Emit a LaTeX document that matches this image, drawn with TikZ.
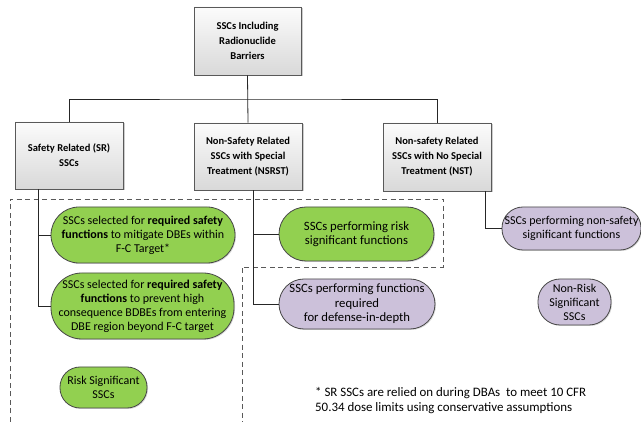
\documentclass[tikz,border=0pt]{standalone}
\usepackage{fontspec}
\setmainfont{Carlito}
\usetikzlibrary{shadows,calc}
\definecolor{boxline}{HTML}{595959}
\definecolor{conn}{HTML}{262626}
\definecolor{grn}{HTML}{92D050}
\definecolor{prp}{HTML}{CCC1DA}
\definecolor{dash}{HTML}{595959}
\tikzset{
  catbox/.style={draw=boxline, line width=0.8pt, top color=white!97!gray, bottom color=gray!30,
     drop shadow={shadow xshift=1.5pt, shadow yshift=-1.5pt, fill=gray!55, opacity=0.7},
     font=\fontsize{10.5}{15}\selectfont\bfseries, align=center, inner sep=2pt},
  pill/.style={draw=conn!85, line width=0.8pt, align=center, inner sep=1pt,
     font=\fontsize{12}{14}\selectfont,
     drop shadow={shadow xshift=1pt, shadow yshift=-1pt, fill=gray!50, opacity=0.6}},
  greenpill/.style={pill, fill=grn},
  purplepill/.style={pill, fill=prp},
  bigtext/.style={font=\fontsize{12.7}{14.5}\selectfont},
  link/.style={draw=conn, line width=0.8pt},
  region/.style={draw=dash, line width=0.8pt, dash pattern=on 5pt off 3.5pt},
}
\begin{document}
\begin{tikzpicture}[x=1pt,y=-1pt]
\useasboundingbox (0,0) rectangle (641,422);
\fill[white] (0,0) rectangle (641,422);
% category boxes
\node[catbox, minimum width=107pt, minimum height=68pt] (top) at (247.5,41) {SSCs Including\\Radionuclide\\Barriers};
\node[catbox, minimum width=108pt, minimum height=67pt] (sr) at (69,155.5) {Safety Related (SR)\\SSCs};
\node[catbox, minimum width=108pt, minimum height=67pt] (nsrst) at (248,156.5) {Non-Safety Related\\SSCs with Special\\Treatment (NSRST)};
\node[catbox, minimum width=108pt, minimum height=68pt] (nst) at (437,157) {Non-safety Related\\SSCs with No Special\\Treatment (NST)};
% dashed regions
\coordinate (r1) at (10,422);
\coordinate (r2) at (10,199);
\coordinate (r3) at (443,199);
\coordinate (r4) at (443,267);
\coordinate (r5) at (242,267);
\coordinate (r6) at (242,422);
\draw[region] (r1) -- (r2) -- (r3) -- (r4) -- (r5) -- (r6);
% pills
\node[greenpill, minimum width=184pt, minimum height=56pt, rounded corners=28pt] (g1) at (143,235)
  {SSCs selected for \textbf{required safety}\\\textbf{functions} to mitigate DBEs within\\F-C Target*};
\node[greenpill, minimum width=183pt, minimum height=66pt, rounded corners=31pt] (g2) at (142.5,306)
  {SSCs selected for \textbf{required safety}\\\textbf{functions} to prevent high\\consequence BDBEs from entering\\DBE region beyond F-C target};
\node[greenpill, minimum width=87pt, minimum height=41pt, rounded corners=20pt] (g3) at (103.5,387.5)
  {Risk Significant\\SSCs};
\node[greenpill, bigtext, minimum width=155pt, minimum height=54pt, rounded corners=27pt] (g4) at (356.5,234)
  {SSCs performing risk\\significant functions};
\node[purplepill, bigtext, minimum width=156pt, minimum height=50pt, rounded corners=25pt] (p1) at (357,304)
  {SSCs performing functions\\required\\for defense-in-depth};
\node[purplepill, minimum width=139pt, minimum height=43pt, rounded corners=21pt] (p2) at (571.5,228.5)
  {SSCs performing non-safety\\significant functions};
\node[purplepill, minimum width=73pt, minimum height=46pt, rounded corners=22pt] (p3) at (574.5,302)
  {Non-Risk\\Significant\\SSCs};
% top connectors
\coordinate (bus) at ($(top.south)!0.5!(nsrst.north)$);
\draw[link] (top.south) -- (nsrst.north);
\draw[link] (sr.north) |- (bus) -| (nst.north);
% SR branch
\coordinate (srj) at ($(sr.south west)+(24,0)$);
\draw[link] (srj) |- (g2.west);
\draw[link] (srj |- g1.west) -- (g1.west);
% NSRST branch
\coordinate (nsj) at ($(nsrst.south west)+(60,0)$);
\draw[link] (nsj) |- (p1.west);
\draw[link] (nsj |- g4.west) -- (g4.west);
% NST branch
\coordinate (ntj) at ($(nst.south west)+(103,0)$);
\draw[link] (ntj) |- (p2.west);
% footnote
\node[anchor=north west, align=left, inner sep=0pt, font=\fontsize{12.9}{15}\selectfont] (fn) at (315,387)
  {* SR SSCs are relied on during DBAs\ \ to meet 10 CFR\\50.34 dose limits using conservative assumptions};
\end{tikzpicture}
\end{document}
